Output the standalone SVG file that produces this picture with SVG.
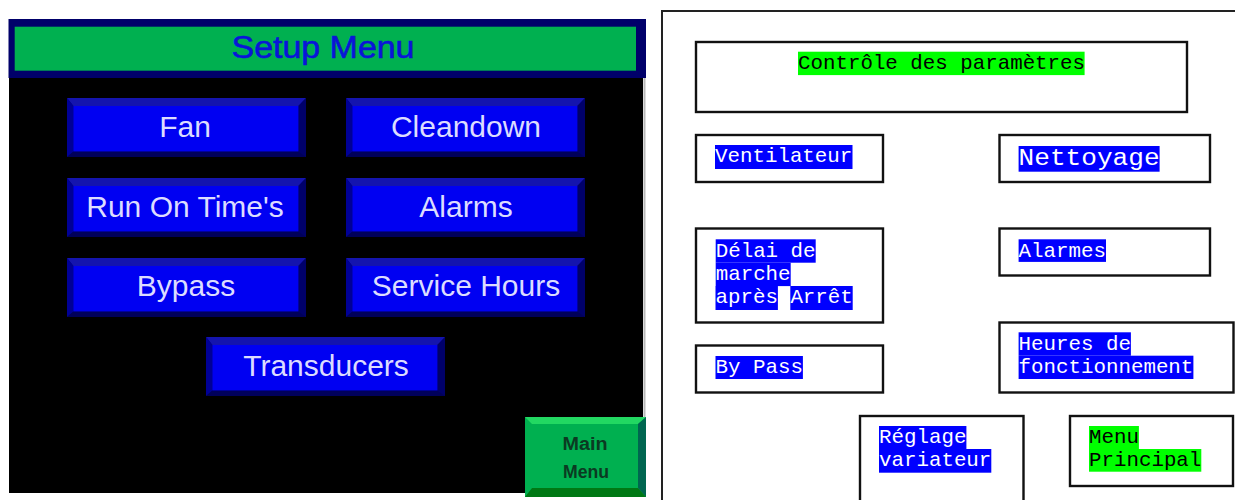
<svg xmlns="http://www.w3.org/2000/svg" xmlns:xlink="http://www.w3.org/1999/xlink" width="1235" height="500" viewBox="0 0 1235 500">
  <style>
    .btxt { font-family: "Liberation Sans", Arial, sans-serif; font-size: 30px; fill: #DCDCFF; text-anchor: middle; }
    .title { font-family: "Liberation Sans", Arial, sans-serif; font-size: 31px; fill: #0A14D8; stroke: #0A14D8; stroke-width: 0.6; text-anchor: middle; }
    .mm { font-family: "Liberation Sans", Arial, sans-serif; font-size: 18px; font-weight: bold; fill: #0B3A22; text-anchor: middle; }
    .box { fill: #FFFFFF; stroke: #111111; stroke-width: 2.4; }
    .m { font-family: "Liberation Mono", "Courier New", monospace; font-size: 20.8px; }
    .mw { fill: #FFFFFF; }
    .mk { fill: #000000; }
    .hb { fill: #0000FF; }
    .hg { fill: #00FF00; }
  </style>
  <defs>
    <!-- bevelled blue push-button, 239 x 59 -->
    <symbol id="btn" viewBox="0 0 239 59" width="239" height="59">
      <rect x="0" y="0" width="239" height="59" fill="#00006E"/>
      <polygon points="0,0 239,0 231.4,8 6.4,8" fill="#1414AE"/>
      <polygon points="0,0 6.4,8 6.4,53.4 0,59" fill="#000096"/>
      <polygon points="239,0 239,59 231.4,53.4 231.4,8" fill="#00006A"/>
      <polygon points="0,59 6.4,53.4 231.4,53.4 239,59" fill="#00005A"/>
      <rect x="6.4" y="8" width="225" height="45.4" fill="#0000F2"/>
    </symbol>
  </defs>

  <rect x="0" y="0" width="1235" height="500" fill="#FFFFFF"/>

  <!-- HMI setup screen -->
  <g id="hmi-screen">
    <rect x="8.5" y="19" width="637.5" height="59" fill="#00006A"/>
    <rect x="14.7" y="26.7" width="621.3" height="44" fill="#00B050"/>
    <text class="title" x="323" y="58" textLength="183" lengthAdjust="spacingAndGlyphs">Setup Menu</text>
    <rect x="9" y="78" width="634" height="415" fill="#000000"/>
    <line x1="644.5" y1="78" x2="644.5" y2="494" stroke="#B8B8B8" stroke-width="2"/>
  </g>

  <g id="btn-fan">
    <use xlink:href="#btn" x="67" y="98"/>
    <text class="btxt" x="185" y="137">Fan</text>
  </g>
  <g id="btn-cleandown">
    <use xlink:href="#btn" x="346" y="98"/>
    <text class="btxt" x="466" y="137">Cleandown</text>
  </g>
  <g id="btn-runon">
    <use xlink:href="#btn" x="67" y="178"/>
    <text class="btxt" x="185" y="217">Run On Time's</text>
  </g>
  <g id="btn-alarms">
    <use xlink:href="#btn" x="346" y="178"/>
    <text class="btxt" x="466" y="217">Alarms</text>
  </g>
  <g id="btn-bypass">
    <use xlink:href="#btn" x="67" y="258"/>
    <text class="btxt" x="186" y="296">Bypass</text>
  </g>
  <g id="btn-service">
    <use xlink:href="#btn" x="346" y="258"/>
    <text class="btxt" x="466" y="296">Service Hours</text>
  </g>
  <g id="btn-transducers">
    <use xlink:href="#btn" x="206" y="337"/>
    <text class="btxt" x="326" y="376">Transducers</text>
  </g>
  <g id="btn-mainmenu">
    <rect x="525" y="417" width="121" height="80" fill="#00B050"/>
    <polygon points="525,417 646,417 638,424 532,424" fill="#22D862"/>
    <polygon points="646,417 646,497 638,488 638,424" fill="#006650"/>
    <polygon points="525,497 532,488 638,488 646,497" fill="#007814"/>
    <text class="mm" x="585" y="450" textLength="45" lengthAdjust="spacingAndGlyphs">Main</text>
    <text class="mm" x="586" y="478" textLength="46" lengthAdjust="spacingAndGlyphs">Menu</text>
  </g>

  <!-- French translation panel -->
  <g id="panel-fr">
    <path d="M662,500 V11 H1235" fill="none" stroke="#222222" stroke-width="2"/>
  </g>

  <g id="fr-controle">
    <rect class="box" x="696" y="42" width="491" height="70"/>
    <rect class="hg" x="798" y="51.7" width="286.6" height="23.4"/>
    <text class="m mk" x="798" y="69">Contrôle des paramètres</text>
  </g>
  <g id="fr-ventilateur">
    <rect class="box" x="696" y="135" width="187" height="47"/>
    <rect class="hb" x="715" y="145" width="137.5" height="24"/>
    <text class="m mw" x="715" y="162.3">Ventilateur</text>
  </g>
  <g id="fr-nettoyage">
    <rect class="box" x="999.5" y="135" width="210.5" height="47"/>
    <rect class="hb" x="1018.6" y="146" width="141" height="25.7"/>
    <text class="m mw" x="1018.6" y="165" style="font-size:23px" textLength="141" lengthAdjust="spacingAndGlyphs">Nettoyage</text>
  </g>
  <g id="fr-delai">
    <rect class="box" x="696" y="228.5" width="187" height="94"/>
    <rect class="hb" x="715.7" y="239.3" width="100" height="23.4"/>
    <rect class="hb" x="715.7" y="262.7" width="75" height="23.4"/>
    <rect class="hb" x="715.5" y="286" width="62.4" height="24"/>
    <rect class="hb" x="790.3" y="286" width="62.4" height="24"/>
    <text class="m mw" x="715.7" y="256.6">Délai de</text>
    <text class="m mw" x="715.7" y="280">marche</text>
    <text class="m mw" x="715.5" y="303.3">après Arrêt</text>
  </g>
  <g id="fr-alarmes">
    <rect class="box" x="999.5" y="228.5" width="210.5" height="47"/>
    <rect class="hb" x="1018.6" y="239.3" width="87.4" height="22.6"/>
    <text class="m mw" x="1018.6" y="256.6">Alarmes</text>
  </g>
  <g id="fr-bypass">
    <rect class="box" x="696" y="345.5" width="187" height="47"/>
    <rect class="hb" x="715.5" y="356" width="87.4" height="23"/>
    <text class="m mw" x="715.5" y="373.3">By Pass</text>
  </g>
  <g id="fr-heures">
    <rect class="box" x="999.5" y="322.5" width="234" height="70"/>
    <rect class="hb" x="1018.6" y="332.3" width="112.3" height="23.4"/>
    <rect class="hb" x="1018.6" y="355.7" width="174.8" height="23.3"/>
    <text class="m mw" x="1018.6" y="349.6">Heures de</text>
    <text class="m mw" x="1018.6" y="373">fonctionnement</text>
  </g>
  <g id="fr-reglage">
    <rect class="box" x="860" y="416" width="163.5" height="90"/>
    <rect class="hb" x="879" y="426" width="87.4" height="23"/>
    <rect class="hb" x="879" y="449" width="112.3" height="23.7"/>
    <text class="m mw" x="879" y="443.3">Réglage</text>
    <text class="m mw" x="879" y="466.3">variateur</text>
  </g>
  <g id="fr-menu">
    <rect class="box" x="1070" y="416" width="163" height="70"/>
    <rect class="hg" x="1089" y="426" width="49.9" height="23"/>
    <rect class="hg" x="1089" y="449" width="112.3" height="22.7"/>
    <text class="m mk" x="1089" y="443.3">Menu</text>
    <text class="m mk" x="1089" y="466.3">Principal</text>
  </g>
</svg>
